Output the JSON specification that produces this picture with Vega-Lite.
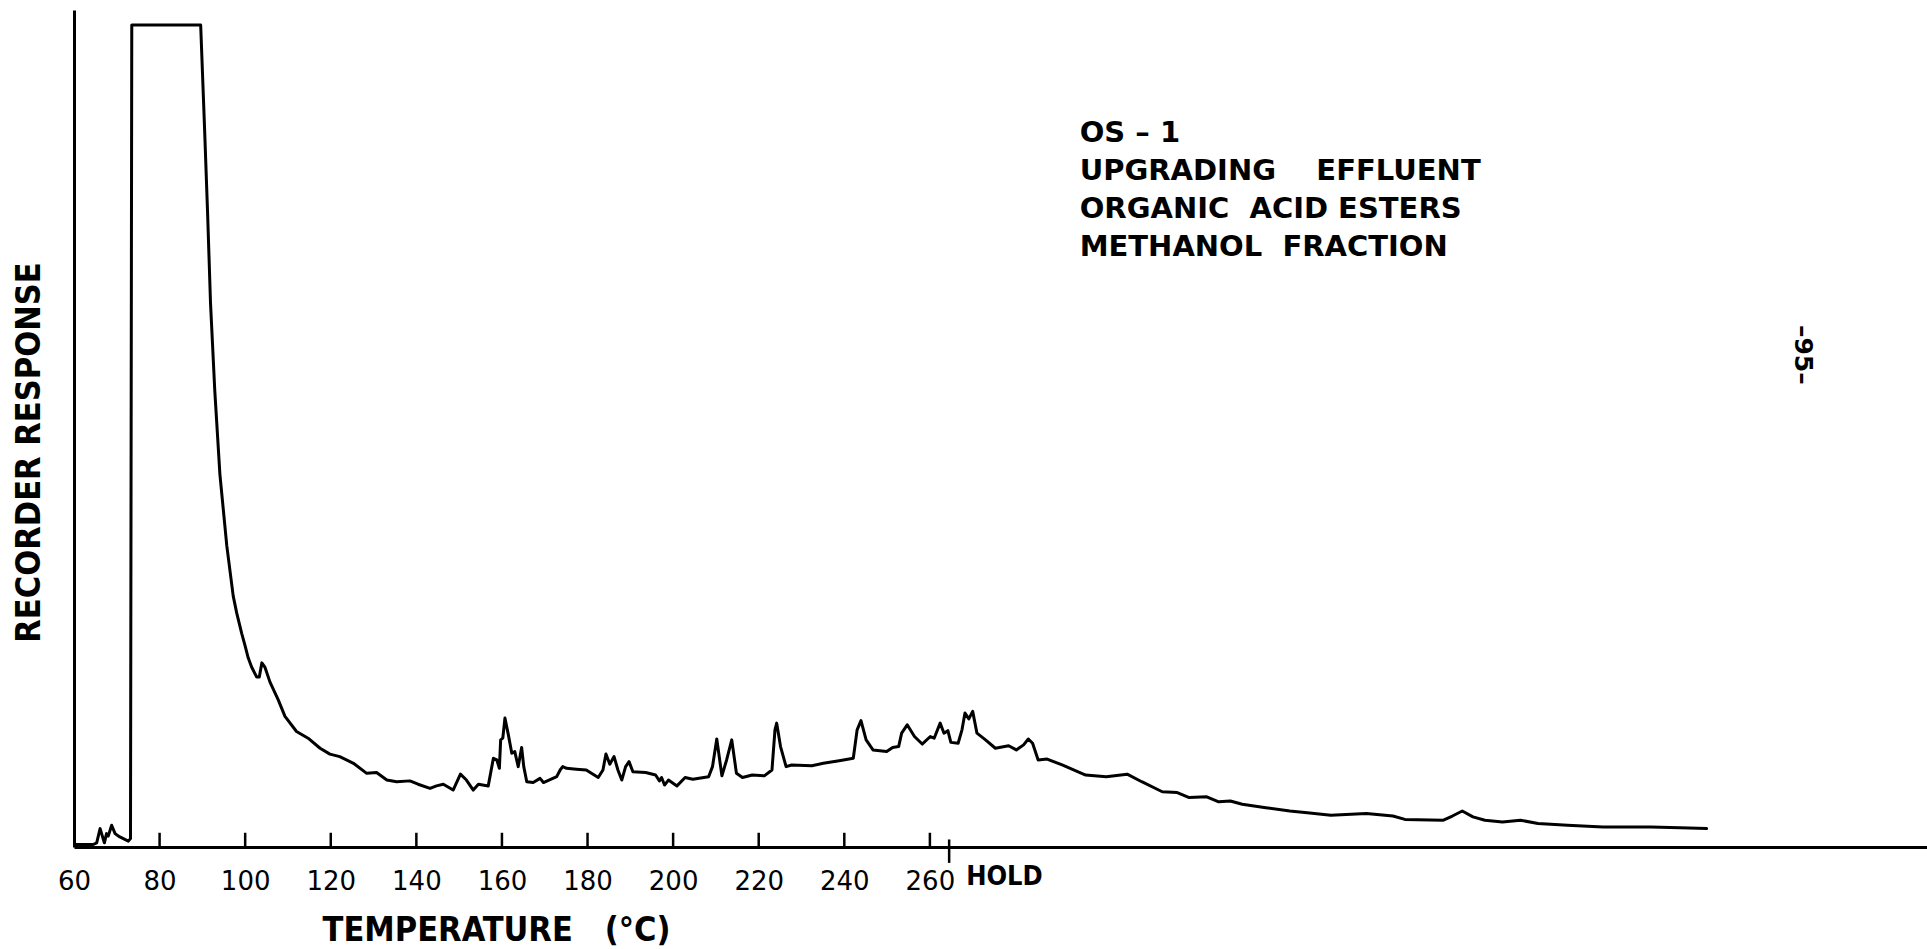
{
  "$schema": "https://vega.github.io/schema/vega-lite/v6.json",
  "width": 1853,
  "height": 837,
  "autosize": {"type": "none"},
  "padding": {"left": 74, "top": 10, "right": 0, "bottom": 102},
  "background": "white",
  "config": {
    "view": {"stroke": null},
    "font": "DejaVu Sans",
    "axis": {"grid": false, "domainColor": "black", "tickColor": "black", "labelColor": "black", "titleColor": "black", "labelFont": "DejaVu Sans", "titleFont": "DejaVu Sans Condensed, DejaVu Sans", "titleFontWeight": "bold"}
  },
  "layer": [
    {
      "data": {"values": [
        {"temperature": 60.3, "response": 0.3}, {"temperature": 64.5, "response": 0.3}, {"temperature": 65.3, "response": 0.5},
        {"temperature": 66.1, "response": 2.2}, {"temperature": 67.1, "response": 0.5}, {"temperature": 67.6, "response": 1.6},
        {"temperature": 68.0, "response": 1.3}, {"temperature": 68.8, "response": 2.6}, {"temperature": 69.6, "response": 1.6},
        {"temperature": 70.7, "response": 1.2}, {"temperature": 72.7, "response": 0.7}, {"temperature": 73.2, "response": 1.0},
        {"temperature": 73.5, "response": 98.2}, {"temperature": 89.6, "response": 98.2}, {"temperature": 90.5, "response": 86},
        {"temperature": 91.2, "response": 76}, {"temperature": 91.9, "response": 65}, {"temperature": 92.9, "response": 54.5},
        {"temperature": 94.1, "response": 44.5}, {"temperature": 95.7, "response": 36}, {"temperature": 97.2, "response": 30},
        {"temperature": 98.0, "response": 28}, {"temperature": 99.2, "response": 25.5}, {"temperature": 100.0, "response": 24},
        {"temperature": 100.7, "response": 22.6}, {"temperature": 101.5, "response": 21.5}, {"temperature": 102.7, "response": 20.3},
        {"temperature": 103.3, "response": 20.3}, {"temperature": 103.9, "response": 22.0}, {"temperature": 104.6, "response": 21.5},
        {"temperature": 105.8, "response": 19.7}, {"temperature": 107.7, "response": 17.6}, {"temperature": 109.3, "response": 15.6},
        {"temperature": 112.0, "response": 13.8}, {"temperature": 114.7, "response": 13.0}, {"temperature": 117.5, "response": 11.8},
        {"temperature": 119.8, "response": 11.1}, {"temperature": 122.1, "response": 10.8}, {"temperature": 125.3, "response": 10.0},
        {"temperature": 128.4, "response": 8.8}, {"temperature": 130.7, "response": 8.9}, {"temperature": 133.1, "response": 8.0},
        {"temperature": 135.4, "response": 7.8}, {"temperature": 138.5, "response": 7.9}, {"temperature": 140.4, "response": 7.5},
        {"temperature": 143.2, "response": 7.0}, {"temperature": 144.7, "response": 7.3}, {"temperature": 146.3, "response": 7.5},
        {"temperature": 148.6, "response": 6.8}, {"temperature": 150.3, "response": 8.7}, {"temperature": 151.7, "response": 8.0},
        {"temperature": 153.3, "response": 6.8}, {"temperature": 154.5, "response": 7.5}, {"temperature": 156.8, "response": 7.3},
        {"temperature": 158.0, "response": 10.6}, {"temperature": 158.8, "response": 10.4}, {"temperature": 159.4, "response": 9.4},
        {"temperature": 159.7, "response": 12.8}, {"temperature": 160.2, "response": 13.0}, {"temperature": 160.7, "response": 15.4},
        {"temperature": 161.5, "response": 13.4}, {"temperature": 162.3, "response": 11.2}, {"temperature": 163.0, "response": 11.4},
        {"temperature": 163.8, "response": 9.6}, {"temperature": 164.6, "response": 11.9}, {"temperature": 165.1, "response": 9.6},
        {"temperature": 165.8, "response": 7.8}, {"temperature": 167.3, "response": 7.7}, {"temperature": 168.9, "response": 8.2},
        {"temperature": 169.7, "response": 7.7}, {"temperature": 172.8, "response": 8.4}, {"temperature": 173.6, "response": 9.2},
        {"temperature": 174.2, "response": 9.6}, {"temperature": 175.1, "response": 9.4}, {"temperature": 177.4, "response": 9.3},
        {"temperature": 179.7, "response": 9.2}, {"temperature": 182.5, "response": 8.3}, {"temperature": 183.6, "response": 9.2},
        {"temperature": 184.3, "response": 11.1}, {"temperature": 185.2, "response": 9.9}, {"temperature": 186.2, "response": 10.8},
        {"temperature": 187.1, "response": 9.2}, {"temperature": 188.0, "response": 8.0}, {"temperature": 188.9, "response": 9.6},
        {"temperature": 189.7, "response": 10.2}, {"temperature": 190.6, "response": 9.0}, {"temperature": 193.6, "response": 8.9},
        {"temperature": 195.9, "response": 8.6}, {"temperature": 196.8, "response": 7.9}, {"temperature": 197.3, "response": 8.3},
        {"temperature": 198.0, "response": 7.4}, {"temperature": 198.9, "response": 8.0}, {"temperature": 200.9, "response": 7.3},
        {"temperature": 202.8, "response": 8.3}, {"temperature": 204.6, "response": 8.1}, {"temperature": 208.3, "response": 8.4},
        {"temperature": 209.2, "response": 9.6}, {"temperature": 210.2, "response": 12.9}, {"temperature": 211.4, "response": 8.5},
        {"temperature": 212.5, "response": 10.4}, {"temperature": 213.7, "response": 12.8}, {"temperature": 214.8, "response": 8.8},
        {"temperature": 216.2, "response": 8.3}, {"temperature": 218.5, "response": 8.6}, {"temperature": 221.3, "response": 8.5},
        {"temperature": 223.1, "response": 9.2}, {"temperature": 223.8, "response": 14.0}, {"temperature": 224.2, "response": 14.8},
        {"temperature": 225.1, "response": 12.0}, {"temperature": 226.4, "response": 9.6}, {"temperature": 227.7, "response": 9.8},
        {"temperature": 232.4, "response": 9.7}, {"temperature": 235.1, "response": 10.0}, {"temperature": 238.8, "response": 10.3},
        {"temperature": 242.1, "response": 10.6}, {"temperature": 243.0, "response": 14.0}, {"temperature": 243.9, "response": 15.1},
        {"temperature": 245.1, "response": 12.8}, {"temperature": 246.7, "response": 11.6}, {"temperature": 249.9, "response": 11.4},
        {"temperature": 251.3, "response": 11.9}, {"temperature": 252.7, "response": 12.0}, {"temperature": 253.4, "response": 13.6},
        {"temperature": 254.7, "response": 14.6}, {"temperature": 256.4, "response": 13.2}, {"temperature": 258.2, "response": 12.3},
        {"temperature": 260.1, "response": 13.2}, {"temperature": 261.0, "response": 13.0}, {"temperature": 262.4, "response": 14.8},
        {"temperature": 263.3, "response": 13.6}, {"temperature": 264.2, "response": 13.9}, {"temperature": 264.9, "response": 12.5},
        {"temperature": 266.6, "response": 12.4}, {"temperature": 267.5, "response": 14.0}, {"temperature": 268.2, "response": 16.0},
        {"temperature": 269.1, "response": 15.3}, {"temperature": 270.0, "response": 16.2}, {"temperature": 271.0, "response": 13.6},
        {"temperature": 273.0, "response": 12.8}, {"temperature": 275.3, "response": 11.8}, {"temperature": 278.4, "response": 12.1},
        {"temperature": 280.2, "response": 11.6}, {"temperature": 281.9, "response": 12.2}, {"temperature": 283.0, "response": 12.9},
        {"temperature": 284.0, "response": 12.4}, {"temperature": 285.3, "response": 10.4}, {"temperature": 287.4, "response": 10.5},
        {"temperature": 290.9, "response": 9.8}, {"temperature": 296.4, "response": 8.6}, {"temperature": 301.2, "response": 8.4},
        {"temperature": 306.1, "response": 8.7}, {"temperature": 309.5, "response": 7.8}, {"temperature": 314.3, "response": 6.6},
        {"temperature": 317.8, "response": 6.5}, {"temperature": 320.6, "response": 5.9}, {"temperature": 324.7, "response": 6.0},
        {"temperature": 327.5, "response": 5.4}, {"temperature": 330.2, "response": 5.5}, {"temperature": 333.0, "response": 5.1},
        {"temperature": 338.5, "response": 4.7}, {"temperature": 344.1, "response": 4.3}, {"temperature": 348.2, "response": 4.1},
        {"temperature": 353.7, "response": 3.8}, {"temperature": 362.0, "response": 4.0}, {"temperature": 368.2, "response": 3.7},
        {"temperature": 371.0, "response": 3.3}, {"temperature": 380.0, "response": 3.2}, {"temperature": 382.1, "response": 3.7},
        {"temperature": 384.4, "response": 4.3}, {"temperature": 386.9, "response": 3.6}, {"temperature": 389.7, "response": 3.2},
        {"temperature": 393.8, "response": 3.0}, {"temperature": 398.0, "response": 3.2}, {"temperature": 402.1, "response": 2.8},
        {"temperature": 409.0, "response": 2.6}, {"temperature": 417.3, "response": 2.4}, {"temperature": 428.4, "response": 2.4},
        {"temperature": 435.3, "response": 2.3}, {"temperature": 441.5, "response": 2.2}
      ]},
      "mark": {"type": "line", "color": "black", "strokeWidth": 3, "strokeJoin": "round", "strokeCap": "round"},
      "encoding": {
        "x": {
          "field": "temperature", "type": "quantitative",
          "scale": {"domain": [60, 493], "nice": false, "zero": false},
          "axis": {
            "values": [60, 80, 100, 120, 140, 160, 180, 200, 220, 240, 260],
            "title": "TEMPERATURE\u00a0\u00a0\u00a0(°C)",
            "titleFontSize": 34, "titleX": 422, "titleY": 93, "titleBaseline": "alphabetic", "titleAlign": "center", "titleAnchor": null,
            "labelFontSize": 26, "labelPadding": 21, "labelFlush": false, "labelOverlap": false,
            "ticks": false, "domainWidth": 3
          }
        },
        "y": {
          "field": "response", "type": "quantitative",
          "scale": {"domain": [0, 100], "nice": false, "zero": false},
          "axis": {
            "title": "RECORDER RESPONSE", "titleFontSize": 34, "titleX": -35, "titleY": 442, "titleAngle": 270,
            "titleBaseline": "alphabetic", "titleAlign": "center", "titleAnchor": null,
            "ticks": false, "labels": false, "domainWidth": 3
          }
        }
      }
    },
    {
      "data": {"values": [{"mark": 80}, {"mark": 100}, {"mark": 120}, {"mark": 140}, {"mark": 160}, {"mark": 180}, {"mark": 200}, {"mark": 220}, {"mark": 240}, {"mark": 260}]},
      "mark": {"type": "rule", "color": "black", "strokeWidth": 2.5},
      "encoding": {"x": {"field": "mark", "type": "quantitative"}, "y": {"datum": 0}, "y2": {"datum": 1.7}}
    },
    {
      "data": {"values": [{"tick": "HOLD"}]},
      "mark": {"type": "rule", "color": "black", "strokeWidth": 2.5},
      "encoding": {"x": {"datum": 264.5}, "y": {"datum": 0.9}, "y2": {"datum": -1.9}}
    },
    {
      "data": {"values": [{"tick": "HOLD"}]},
      "mark": {"type": "text", "font": "DejaVu Sans Condensed, DejaVu Sans", "fontWeight": "bold", "fontSize": 27, "align": "left", "baseline": "alphabetic", "dx": 17, "color": "black"},
      "encoding": {"x": {"datum": 264.5}, "y": {"datum": -4.5}, "text": {"field": "tick"}}
    },
    {
      "data": {"values": [{"note": "OS – 1\nUPGRADING\u00a0\u00a0\u00a0\u00a0EFFLUENT\nORGANIC\u00a0 ACID ESTERS\nMETHANOL\u00a0 FRACTION"}]},
      "mark": {"type": "text", "fontSize": 29, "fontWeight": "bold", "align": "left", "baseline": "alphabetic", "lineBreak": "\n", "lineHeight": 38, "color": "black"},
      "encoding": {"x": {"datum": 295}, "y": {"datum": 84.2}, "text": {"field": "note"}}
    },
    {
      "data": {"values": [{"page": "–95–"}]},
      "mark": {"type": "text", "fontSize": 25, "fontWeight": "bold", "angle": 90, "align": "center", "baseline": "middle", "color": "black"},
      "encoding": {"x": {"datum": 464}, "y": {"datum": 58.8}, "text": {"field": "page"}}
    }
  ]
}
